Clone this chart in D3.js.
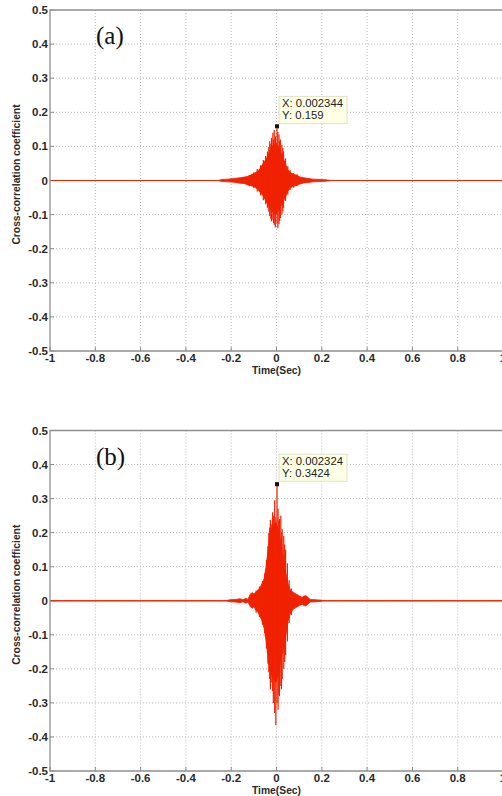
<!DOCTYPE html>
<html>
<head>
<meta charset="utf-8">
<script src="https://cdn.jsdelivr.net/npm/d3@7"></script>
<style>
    body { margin: 0; background: #fff; }
    .tick-label { font-family: "Liberation Sans", Arial, sans-serif; font-size: 11.5px; font-weight: bold; fill: #2a2a2a; }
    .axis-title { font-family: "Liberation Sans", Arial, sans-serif; font-size: 10.3px; font-weight: bold; fill: #2a2a2a; }
    .panel-tag { font-family: "Liberation Serif", "Times New Roman", serif; font-size: 25px; fill: #111; }
    .tip-text { font-family: "Liberation Sans", Arial, sans-serif; font-size: 11.3px; fill: #222; }
</style>
</head>
<body>
<div id="container"></div>
<script>
// ticks
const xTicks = [-1, -0.8, -0.6, -0.4, -0.2, 0, 0.2, 0.4, 0.6, 0.8, 1];
const yTicks = [0.5, 0.4, 0.3, 0.2, 0.1, 0, -0.1, -0.2, -0.3, -0.4, -0.5];

// panel (a): envelope
const timeA  = [-1, -0.258, -0.241, -0.214, -0.188, -0.161, -0.143, -0.126, -0.108, -0.095, -0.082, -0.073, -0.064, -0.055, -0.046, -0.037, -0.029, -0.020, -0.011, -0.002, 0.007, 0.015, 0.024, 0.033, 0.042, 0.051, 0.064, 0.077, 0.091, 0.104, 0.121, 0.139, 0.161, 0.192, 0.219, 0.241, 1];
const upperA = [0, 0, 0.003, 0.004, 0.006, 0.008, 0.010, 0.012, 0.018, 0.022, 0.028, 0.035, 0.045, 0.055, 0.062, 0.075, 0.085, 0.100, 0.105, 0.110, 0.100, 0.090, 0.075, 0.060, 0.045, 0.030, 0.022, 0.018, 0.015, 0.010, 0.008, 0.006, 0.004, 0.003, 0.002, 0, 0];
const lowerA = [0, 0, -0.003, -0.004, -0.005, -0.008, -0.009, -0.013, -0.016, -0.020, -0.026, -0.035, -0.040, -0.050, -0.062, -0.072, -0.080, -0.090, -0.095, -0.100, -0.090, -0.080, -0.070, -0.058, -0.045, -0.030, -0.020, -0.017, -0.014, -0.010, -0.007, -0.006, -0.004, -0.003, -0.002, 0, 0];
const spikeTimeA  = [-0.120, -0.100, -0.085, -0.070, -0.058, -0.048, -0.040, -0.034, -0.030, -0.025, -0.022, -0.016, -0.013, -0.010, -0.005, 0.002344, 0.006, 0.011, 0.014, 0.017, 0.024, 0.028, 0.031, 0.040, 0.050, 0.060, 0.075, 0.090];
const spikeUpA    = [0.016, 0.024, 0.034, 0.045, 0.060, 0.072, 0.085, 0.098, 0.115, 0.108, 0.125, 0.140, 0.120, 0.148, 0.130, 0.159, 0.142, 0.135, 0.115, 0.120, 0.105, 0.095, 0.085, 0.065, 0.042, 0.030, 0.022, 0.018];
const spikeDownA  = [-0.017, -0.022, -0.032, -0.044, -0.058, -0.070, -0.080, -0.092, -0.105, -0.112, -0.120, -0.115, -0.125, -0.130, -0.138, -0.125, -0.140, -0.128, -0.118, -0.110, -0.100, -0.090, -0.080, -0.060, -0.042, -0.028, -0.021, -0.017];
const tipA = { x: 0.002344, y: 0.159 };

// panel (b)
const timeB  = [-1, -0.223, -0.205, -0.179, -0.161, -0.148, -0.135, -0.126, -0.117, -0.108, -0.099, -0.091, -0.082, -0.073, -0.064, -0.055, -0.046, -0.037, -0.029, -0.020, -0.011, -0.002, 0.007, 0.015, 0.024, 0.033, 0.042, 0.051, 0.060, 0.073, 0.086, 0.099, 0.113, 0.121, 0.130, 0.139, 0.148, 0.170, 0.192, 0.210, 1];
const upperB = [0, 0, 0.003, 0.004, 0.006, 0.003, 0.007, 0.004, 0.018, 0.024, 0.020, 0.026, 0.032, 0.038, 0.050, 0.065, 0.100, 0.150, 0.195, 0.215, 0.225, 0.230, 0.210, 0.185, 0.155, 0.120, 0.080, 0.050, 0.032, 0.025, 0.020, 0.015, 0.010, 0.014, 0.015, 0.010, 0.004, 0.003, 0.002, 0, 0];
const lowerB = [0, 0, -0.003, -0.004, -0.006, -0.003, -0.007, -0.004, -0.016, -0.022, -0.018, -0.028, -0.034, -0.045, -0.060, -0.080, -0.120, -0.170, -0.200, -0.220, -0.230, -0.240, -0.220, -0.190, -0.160, -0.130, -0.100, -0.060, -0.040, -0.025, -0.020, -0.015, -0.010, -0.014, -0.015, -0.010, -0.004, -0.003, -0.002, 0, 0];
const spikeTimeB  = [-0.090, -0.075, -0.062, -0.052, -0.044, -0.038, -0.034, -0.030, -0.027, -0.021, -0.017, -0.014, -0.008, -0.003, 0.002324, 0.007, 0.010, 0.013, 0.019, 0.022, 0.025, 0.032, 0.036, 0.040, 0.048, 0.056, 0.066];
const spikeUpB    = [0.030, 0.042, 0.058, 0.080, 0.120, 0.160, 0.200, 0.215, 0.237, 0.225, 0.260, 0.250, 0.295, 0.245, 0.3424, 0.270, 0.235, 0.240, 0.250, 0.200, 0.210, 0.190, 0.165, 0.150, 0.110, 0.060, 0.036];
const spikeDownB  = [-0.035, -0.048, -0.070, -0.095, -0.140, -0.185, -0.210, -0.230, -0.260, -0.240, -0.265, -0.300, -0.330, -0.365, -0.300, -0.320, -0.275, -0.280, -0.250, -0.260, -0.230, -0.200, -0.180, -0.160, -0.120, -0.065, -0.042];
const tipB = { x: 0.002324, y: 0.3424 };

const width = 502, height = 796;
const left = 50, right = 503;
const red = "#f02200";

const svg = d3.select("#container")
    .append("svg")
    .attr("width", width)
    .attr("height", height);

function drawPanel({ top, bottom, tag, time, upper, lower, spikeTime, spikeUp, spikeDown, tip }) {
    const x = d3.scaleLinear().domain([-1, 1]).range([left, right]);
    const y = d3.scaleLinear().domain([-0.5, 0.5]).range([bottom, top]);
    const g = svg.append("g");

    // grid
    g.append("g").selectAll("line")
        .data(xTicks.slice(1, -1))
        .join("line")
        .attr("x1", d => x(d)).attr("x2", d => x(d))
        .attr("y1", top).attr("y2", bottom)
        .attr("stroke", "#b8b8b8")
        .attr("stroke-dasharray", "1,2");
    g.append("g").selectAll("line")
        .data(yTicks.slice(1, -1))
        .join("line")
        .attr("x1", left).attr("x2", right)
        .attr("y1", d => y(d)).attr("y2", d => y(d))
        .attr("stroke", "#b8b8b8")
        .attr("stroke-dasharray", "1,2");

    // inner ticks
    g.append("g").selectAll("line")
        .data(yTicks)
        .join("line")
        .attr("x1", left).attr("x2", left + 4)
        .attr("y1", d => y(d)).attr("y2", d => y(d))
        .attr("stroke", "#8a8a8a");
    g.append("g").selectAll("line")
        .data(xTicks)
        .join("line")
        .attr("x1", d => x(d)).attr("x2", d => x(d))
        .attr("y1", bottom).attr("y2", bottom - 4)
        .attr("stroke", "#8a8a8a");

    // signal
    const pts = time.map((t, i) => ({ t, hi: upper[i], lo: lower[i] }));
    g.append("line")
        .attr("x1", x(-1)).attr("x2", x(1))
        .attr("y1", y(0)).attr("y2", y(0))
        .attr("stroke", "#f04a3a")
        .attr("stroke-width", 1.2);
    g.append("path")
        .datum(pts)
        .attr("fill", red)
        .attr("stroke", red)
        .attr("stroke-width", 0.8)
        .attr("d", d3.area().x(d => x(d.t)).y0(d => y(d.lo)).y1(d => y(d.hi)));
    g.append("g").selectAll("line")
        .data(spikeTime.map((t, i) => ({ t, hi: spikeUp[i], lo: spikeDown[i] })))
        .join("line")
        .attr("x1", d => x(d.t)).attr("x2", d => x(d.t))
        .attr("y1", d => y(d.lo)).attr("y2", d => y(d.hi))
        .attr("stroke", red)
        .attr("stroke-width", 1.2);

    // axes box (right side falls off the page)
    g.append("path")
        .attr("d", `M${right},${top}H${left}V${bottom}H${right}`)
        .attr("fill", "none")
        .attr("stroke", "#8f8f8f")
        .attr("stroke-width", 1.3);

    // tick labels
    g.append("g").selectAll("text")
        .data(yTicks)
        .join("text")
        .attr("class", "tick-label")
        .attr("x", left - 2)
        .attr("y", d => y(d) + 4)
        .attr("text-anchor", "end")
        .text(d => d);
    g.append("g").selectAll("text")
        .data(xTicks)
        .join("text")
        .attr("class", "tick-label")
        .attr("x", d => x(d))
        .attr("y", bottom + 11)
        .attr("text-anchor", "middle")
        .text(d => d);

    g.append("text")
        .attr("class", "axis-title")
        .attr("x", x(0))
        .attr("y", bottom + 23)
        .attr("text-anchor", "middle")
        .text("Time(Sec)");
    g.append("text")
        .attr("class", "axis-title")
        .attr("transform", `translate(20,${(top + bottom) / 2 - 6}) rotate(-90)`)
        .attr("text-anchor", "middle")
        .text("Cross-correlation coefficient");

    g.append("text")
        .attr("class", "panel-tag")
        .attr("x", 96)
        .attr("y", top + 34)
        .text(tag);

    // data tip
    const px = x(tip.x), py = y(tip.y);
    const box = g.append("g").attr("transform", `translate(${px + 2},${py - 30})`);
    box.append("rect")
        .attr("width", 68).attr("height", 27)
        .attr("fill", "#ffffe6")
        .attr("stroke", "#d8d8c0")
        .attr("stroke-width", 0.8);
    box.append("text").attr("class", "tip-text").attr("x", 3).attr("y", 11).text(`X: ${tip.x}`);
    box.append("text").attr("class", "tip-text").attr("x", 3).attr("y", 23).text(`Y: ${tip.y}`);
    g.append("rect")
        .attr("x", px - 2).attr("y", py - 2)
        .attr("width", 4).attr("height", 4)
        .attr("fill", "#111");
}

drawPanel({ top: 10, bottom: 351, tag: "(a)", time: timeA, upper: upperA, lower: lowerA,
    spikeTime: spikeTimeA, spikeUp: spikeUpA, spikeDown: spikeDownA, tip: tipA });
drawPanel({ top: 430.5, bottom: 771, tag: "(b)", time: timeB, upper: upperB, lower: lowerB,
    spikeTime: spikeTimeB, spikeUp: spikeUpB, spikeDown: spikeDownB, tip: tipB });
</script>
</body>
</html>
